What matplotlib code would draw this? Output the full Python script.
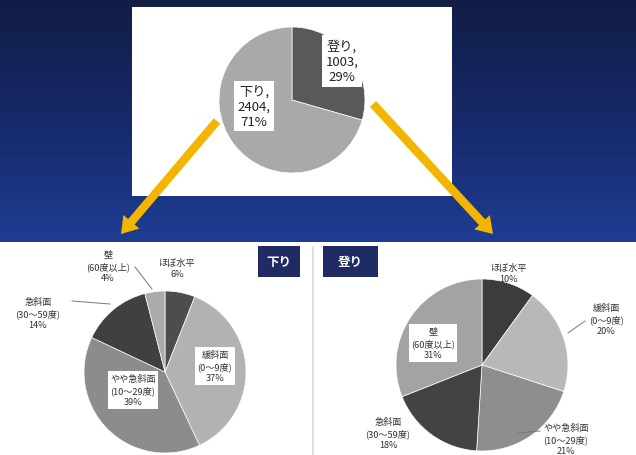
import numpy as np
import matplotlib
matplotlib.use('Agg')
import matplotlib.pyplot as plt
from matplotlib.patches import Rectangle, FancyArrow
from matplotlib.colors import LinearSegmentedColormap

plt.rcParams['font.family'] = ['Noto Sans CJK JP', 'DejaVu Sans']

W, H = 636, 456

# overall split
top_labels = ['登り', '下り']
top_counts = [1003, 2404]
top_pct = [29, 71]

# slope classes, clockwise from 12 o'clock
slope_names = ['ほぼ水平', '緩斜面\n(0〜9度)', 'やや急斜面\n(10〜29度)', '急斜面\n(30〜59度)', '壁\n(60度以上)']
down_pct = [6, 37, 39, 14, 4]
up_pct = [10, 20, 21, 18, 31]

down_colors = ['#4d4d4d', '#b2b2b2', '#8c8c8c', '#404040', '#ababab']
up_colors = ['#3c3c3c', '#b8b8b8', '#8e8e8e', '#434343', '#a3a3a3']

fig = plt.figure(figsize=(W / 100, H / 100), dpi=100)

def px_axes(zorder):
    a = fig.add_axes([0, 0, 1, 1], zorder=zorder)
    a.set_xlim(0, W)
    a.set_ylim(H, 0)
    a.axis('off')
    return a

bg = px_axes(0)
# navy gradient behind the upper part
navy = LinearSegmentedColormap.from_list('navy', ['#111d45', '#17296a', '#1e3d92'])
grad = np.linspace(0, 1, 256).reshape(-1, 1)
bg.imshow(grad, cmap=navy, extent=[0, W, 243, 0], aspect='auto', zorder=0)
bg.add_patch(Rectangle((132, 8), 320, 189, facecolor='white', edgecolor='none', zorder=1))
bg.add_patch(Rectangle((0, 244), W, H - 244, facecolor='white', edgecolor='none', zorder=1))
bg.plot([313, 313], [248, H], color='#d8d8d8', lw=1.2, zorder=2)
bg.set_xlim(0, W)
bg.set_ylim(H, 0)

def pie_axes(cx, cy, r):
    a = fig.add_axes([(cx - r) / W, 1 - (cy + r) / H, 2 * r / W, 2 * r / H], zorder=2)
    return a

def draw_pie(a, vals, colors):
    a.pie(vals, colors=colors, startangle=90, counterclock=False,
          wedgeprops=dict(edgecolor='white', linewidth=0.5))
    a.set_xlim(-1, 1)
    a.set_ylim(-1, 1)
    a.set_aspect('equal')

draw_pie(pie_axes(292, 101, 73), top_counts, ['#595959', '#a9a9a9'])
draw_pie(pie_axes(165, 373, 81), down_pct, down_colors)
draw_pie(pie_axes(482, 366, 86), up_pct, up_colors)

ov = px_axes(5)
ov.patch.set_alpha(0)

# arrows from the overall pie to the breakdowns
arrow_kw = dict(width=8.5, head_width=21, head_length=16, length_includes_head=True,
                facecolor='#f2b500', edgecolor='none')
ov.add_patch(FancyArrow(217, 122, -96, 113, **arrow_kw))
ov.add_patch(FancyArrow(373, 105, 120, 130, **arrow_kw))

box = dict(boxstyle='square,pad=0.25', facecolor='white', edgecolor='none')

for name, n, p, (x, y) in zip(top_labels, top_counts, top_pct, [(342, 62), (254, 107)]):
    ov.text(x, y, f'{name},\n{n},\n{p}%', ha='center', va='center', fontsize=9.5,
            color='#222222', linespacing=1.25, bbox=box)

# panel tags
for name, (x0, x1) in zip(['下り', '登り'], [(258, 300), (323, 378)]):
    ov.add_patch(Rectangle((x0, 247), x1 - x0, 31, facecolor='#1f2b62', edgecolor='none'))
    ov.text((x0 + x1) / 2, 262.5, name, ha='center', va='center', fontsize=9,
            color='white', fontweight='bold')

def slope_label(name, p, x, y, boxed=False):
    ov.text(x, y, f'{name}\n{p}%', ha='center', va='center', fontsize=6.6,
            color='#333333', linespacing=1.35, bbox=box if boxed else None)

# 下り
down_pos = [(177, 269, False), (215, 367, True), (133, 391, True), (38, 314, False), (108, 267, False)]
for name, p, (x, y, b) in zip(slope_names, down_pct, down_pos):
    slope_label(name, p, x, y, b)
ov.plot([135, 152], [268, 290], color='#777777', lw=0.7)
ov.plot([72, 110], [302, 305], color='#777777', lw=0.7)

# 登り
up_pos = [(509, 274, False), (606, 320, False), (566, 440, False), (388, 434, False), (433, 344, True)]
for name, p, (x, y, b) in zip(slope_names, up_pct, up_pos):
    slope_label(name, p, x, y, b)
ov.plot([585, 568], [322, 334], color='#777777', lw=0.7)
ov.plot([540, 518], [432, 434], color='#777777', lw=0.7)

fig.savefig('out.png', dpi=100)
